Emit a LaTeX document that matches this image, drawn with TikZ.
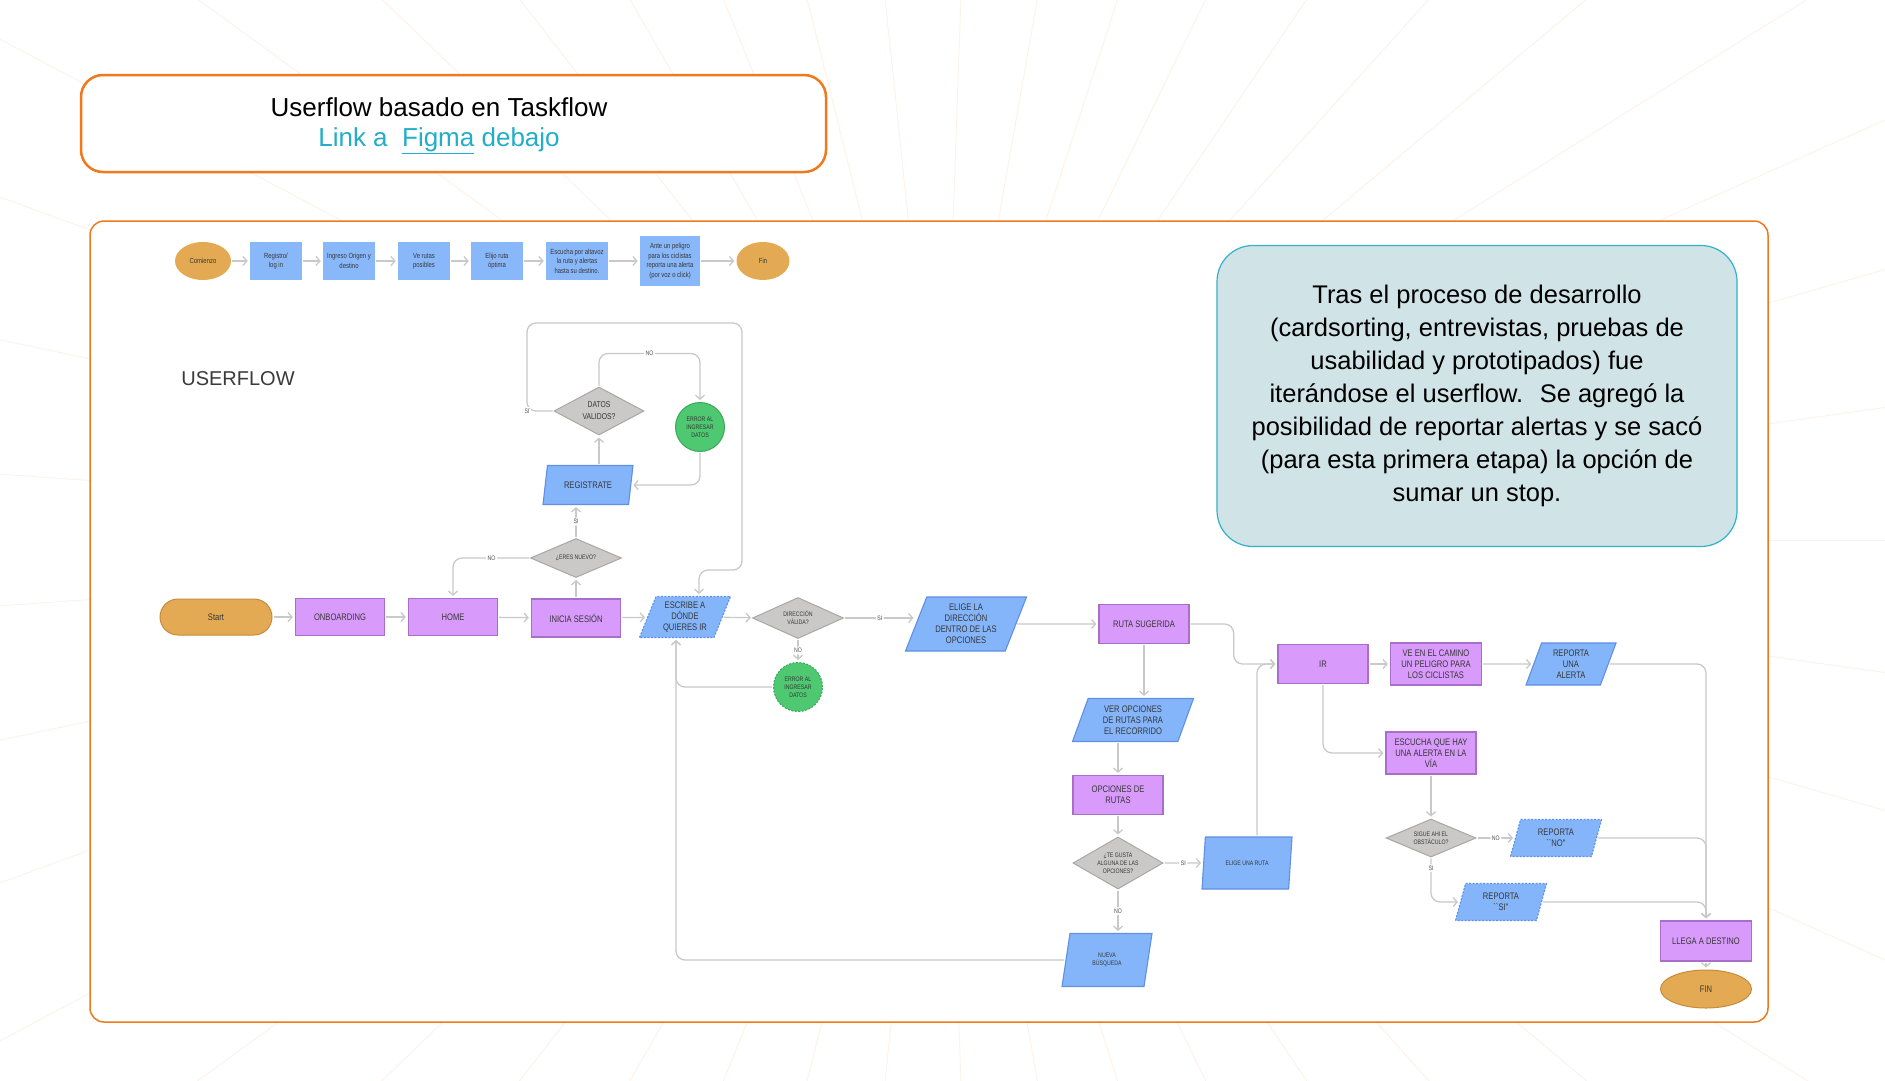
\documentclass[tikz,border=0pt]{standalone}
\usepackage{fontspec}
\usetikzlibrary{shapes.geometric,arrows.meta}
\setmainfont{Liberation Sans}
\newfontfamily\flowfont[FakeStretch=0.8]{Liberation Sans}
\newcommand\flowmain{\flowfont\fontsize{9.5pt}{11pt}\selectfont}
\newcommand\flowsmall{\flowfont\fontsize{6.5pt}{8pt}\selectfont}
\newcommand\flowtop{\flowfont\fontsize{7.4pt}{9.4pt}\selectfont}
\newcommand\flowlbl{\flowfont\fontsize{6.5pt}{7pt}\selectfont}
\definecolor{frameorange}{HTML}{EF7A1E}
\definecolor{rayorange}{HTML}{FEF2E8}
\definecolor{linkcyan}{HTML}{22ADC9}
\definecolor{notefill}{HTML}{D0E3E7}
\definecolor{notecyan}{HTML}{33B1CA}
\definecolor{purplefill}{HTML}{D99BFB}
\definecolor{purpleedge}{HTML}{A86EC8}
\definecolor{bluefill}{HTML}{84B5FB}
\definecolor{blueedge}{HTML}{5F90E2}
\definecolor{taskblue}{HTML}{89B8FA}
\definecolor{grayfill}{HTML}{CBC8C8}
\definecolor{grayedge}{HTML}{A9A6A6}
\definecolor{greenfill}{HTML}{4EC871}
\definecolor{greenedge}{HTML}{3CA75B}
\definecolor{orangefill}{HTML}{E4AA53}
\definecolor{orangeedge}{HTML}{C48B3A}
\definecolor{linegray}{HTML}{C9C9C9}
\definecolor{inkgray}{HTML}{363636}
\definecolor{labelgray}{HTML}{505050}
\definecolor{headgray}{HTML}{3A3A3A}
\begin{document}
\begin{tikzpicture}
            [
                x=1pt, y=-1pt,
                >={Straight Barb[length=4pt,width=9pt]},
                conn/.style={->, draw=linegray, line width=1.3pt, rounded corners=9pt, shorten >=2pt, shorten <=1pt},
                lbl/.style={font=\flowlbl, text=labelgray, fill=white, inner sep=1.5pt},
                process/.style={rectangle, draw=purpleedge, fill=purplefill, line width=1.3pt, minimum width=90pt, minimum height=39pt, align=center, font=\flowmain, text=inkgray, inner sep=1pt},
                inout/.style={trapezium, trapezium left angle=63, trapezium right angle=117, trapezium stretches body, draw=blueedge, fill=bluefill, line width=1.1pt, minimum width=91pt, minimum height=39pt, align=center, font=\flowmain, text=inkgray, inner sep=1pt},
                decision/.style={diamond, aspect=2, draw=grayedge, fill=grayfill, line width=1pt, minimum width=90pt, minimum height=40pt, align=center, font=\flowsmall, text=inkgray, inner sep=0pt},
                errorc/.style={circle, draw=greenedge, fill=greenfill, line width=1pt, minimum size=49pt, align=center, font=\flowsmall, text=inkgray, inner sep=0pt},
                terminal/.style={ellipse, draw=orangeedge, fill=orangefill, line width=1pt, minimum width=91pt, minimum height=38pt, align=center, font=\flowmain, text=inkgray, inner sep=0pt},
                topend/.style={ellipse, fill=orangefill, minimum width=56pt, minimum height=38pt, font=\flowtop, text=inkgray, inner sep=0pt},
                task/.style={rectangle, fill=taskblue, minimum width=52pt, minimum height=38pt, align=center, font=\flowtop, text=inkgray, inner sep=1pt},
                ray/.style={draw=rayorange, line width=0.9pt}
            ]
            \useasboundingbox (0,0) rectangle (1885,1080);
            \fill[white] (0,0) rectangle (1885,1080);
            \begin{scope}
                \clip (0,0) rectangle (1885,1080);
                \foreach \a in {0,8,...,352}
                    \draw[ray] (942,540) -- ++(\a:1400);
            \end{scope}

            \draw[draw=frameorange, fill=white, line width=2.5pt, rounded corners=22pt] (81,75) rectangle (826,172);
            \node[align=center, font=\fontsize{26pt}{30pt}\selectfont] (title) at (439,126)
                {Userflow basado en Taskflow\\\textcolor{linkcyan}{Link a \ \underline{Figma} debajo}};
            \draw[draw=frameorange, fill=white, line width=1.5pt, rounded corners=14pt] (90,221) rectangle (1768,1022);

            \node[draw=notecyan, fill=notefill, line width=1.2pt, rounded corners=36pt, minimum width=520pt, minimum height=301pt, align=center, font=\fontsize{25.5pt}{33pt}\selectfont] (note) at (1477,396) {
                Tras el proceso de desarrollo\\
                (cardsorting, entrevistas, pruebas de\\
                usabilidad y prototipados) fue\\
                iterándose el userflow.~ Se agregó la\\
                posibilidad de reportar alertas y se sacó\\
                (para esta primera etapa) la opción de\\
                sumar un stop.
            };
            \node[font=\fontsize{20pt}{24pt}\selectfont, text=headgray] (uflabel) at (238,379) {USERFLOW};

            \node[topend] (tStart) at (203,261) {Comienzo};
            \node[task] (tLogin) at (276,261) {Registro/\\log in};
            \node[task] (tOrigin) at (349,261) {Ingreso Origen y\\destino};
            \node[task] (tRoutes) at (424,261) {Ve rutas\\posibles};
            \node[task] (tChoose) at (497,261) {Elijo ruta\\óptima};
            \node[task, minimum width=62pt] (tListen) at (577,261) {Escucha por altavoz\\la ruta y alertas\\hasta su destino.};
            \node[task, minimum width=60pt, minimum height=50pt] (tAlert) at (670,261) {Ante un peligro\\para los ciclistas\\reporta una alerta\\(por voz o click)};
            \node[topend, minimum width=53pt] (tEnd) at (763,261) {Fin};
            \draw[conn] (tStart) -- (tLogin);
            \draw[conn] (tLogin) -- (tOrigin);
            \draw[conn] (tOrigin) -- (tRoutes);
            \draw[conn] (tRoutes) -- (tChoose);
            \draw[conn] (tChoose) -- (tListen);
            \draw[conn] (tListen) -- (tAlert);
            \draw[conn] (tAlert) -- (tEnd);

            \node[rectangle, rounded corners=18pt, draw=orangeedge, fill=orangefill, line width=1pt, minimum width=112pt, minimum height=36pt, font=\flowmain, text=inkgray] (start) at (216,617) {Start};
            \node[process, minimum width=89pt, minimum height=37pt] (onb) at (340,617) {ONBOARDING};
            \node[process, minimum width=89pt, minimum height=37pt] (home) at (453,617) {HOME};
            \node[process, minimum width=89pt, minimum height=38pt] (ini) at (576,618) {INICIA SESIÓN};
            \node[inout, minimum height=41pt, dash pattern=on 2pt off 1.5pt] (esc) at (685,617) {ESCRIBE A\\DÓNDE\\QUIERES IR};
            \node[decision, minimum width=91pt, minimum height=41pt] (dir) at (798,618) {DIRECCIÓN\\VÁLIDA?};
            \node[errorc, dash pattern=on 2pt off 1.5pt] (err2) at (798,687) {ERROR AL\\INGRESAR\\DATOS};
            \node[decision, minimum width=91pt, minimum height=39pt] (eres) at (576,558) {¿ERES NUEVO?};
            \node[inout, minimum width=90pt] (reg) at (588,485) {REGISTRATE};
            \node[decision, minimum height=48pt, font=\flowfont\fontsize{8.5pt}{12pt}\selectfont] (datos) at (599,411) {DATOS\\VALIDOS?};
            \node[errorc] (err1) at (700,427) {ERROR AL\\INGRESAR\\DATOS};
            \coordinate (siL) at (527,411);
            \coordinate (loopTL) at (527,323);
            \coordinate (loopTR) at (742,323);
            \coordinate (loopBR) at (742,570);

            \node[inout, minimum width=121pt, minimum height=54pt] (elige) at (966,624) {ELIGE LA\\DIRECCIÓN\\DENTRO DE LAS\\OPCIONES};
            \node[process] (ruta) at (1144,624) {RUTA SUGERIDA};
            \node[inout, minimum width=121pt, minimum height=43pt] (ver) at (1133,720) {VER OPCIONES\\DE RUTAS PARA\\EL RECORRIDO};
            \node[process] (opc) at (1118,795) {OPCIONES DE\\RUTAS};
            \node[decision, minimum height=52pt] (gusta) at (1118,863) {¿TE GUSTA\\ALGUNA DE LAS\\OPCIONES?};
            \node[inout, minimum width=90pt, minimum height=52pt, font=\flowsmall] (eur) at (1247,863) {ELIGE UNA RUTA};
            \node[inout, minimum width=90pt, minimum height=53pt, font=\flowsmall] (nueva) at (1107,960) {NUEVA\\BÚSQUEDA};

            \node[process] (ir) at (1323,664) {IR};
            \node[process, minimum width=91pt, minimum height=42pt] (ve) at (1436,664) {VE EN EL CAMINO\\UN PELIGRO PARA\\LOS CICLISTAS};
            \node[inout, minimum width=90pt, minimum height=42pt] (repa) at (1571,664) {REPORTA\\UNA\\ALERTA};
            \node[process, minimum height=42pt] (escu) at (1431,753) {ESCUCHA QUE HAY\\UNA ALERTA EN LA\\VÍA};
            \node[decision, minimum height=38pt] (sigue) at (1431,838) {SIGUE AHI EL\\OBSTÁCULO?};
            \node[inout, minimum height=37pt, dash pattern=on 2pt off 1.5pt] (repno) at (1556,838) {REPORTA\\``NO''};
            \node[inout, minimum height=37pt, dash pattern=on 2pt off 1.5pt] (repsi) at (1501,902) {REPORTA\\``SI''};
            \node[process, minimum width=91pt, minimum height=40pt] (llega) at (1706,941) {LLEGA A DESTINO};
            \node[terminal] (fin) at (1706,989) {FIN};

            \draw[conn] (start) -- (onb);
            \draw[conn] (onb) -- (home);
            \draw[conn] (home) -- (ini);
            \draw[conn] (ini) -- (esc);
            \draw[conn] (esc) -- (dir);
            \draw[conn] (dir.east) -- node[lbl]{SI} (dir.east -| elige.west);
            \draw[conn] (dir) -- node[lbl]{NO} (err2);
            \draw[conn] (err2.west) -| ([xshift=-9pt]esc.south);
            \draw[conn] (nueva.west) -| ([xshift=-9pt]esc.south);
            \draw[conn] (ini) -- (eres);
            \draw[conn] (eres.west) -| node[lbl, pos=0.25]{NO} (home.north);
            \draw[conn] (eres.north) -- node[lbl]{SI} (eres.north |- reg.south);
            \draw[conn] (datos.south |- reg.north) -- (datos.south);
            \draw[conn] (datos.north) -- ++(0,-33) -| node[lbl, pos=0.25]{NO} (err1.north);
            \draw[conn] (err1.south) |- (reg.east);
            \draw[conn] (datos.west) -- (siL) node[lbl]{SI} -- (loopTL) -- (loopTR) -- (loopBR) -| ([xshift=14pt]esc.north);

            \draw[conn] (elige) -- (ruta);
            \draw[conn] (ruta.south) -- (ruta.south |- ver.north);
            \draw[conn] (opc.north |- ver.south) -- (opc.north);
            \draw[conn] (opc) -- (gusta);
            \draw[conn] (gusta) -- node[lbl]{SI} (eur);
            \draw[conn] (gusta.south) -- node[lbl]{NO} (gusta.south |- nueva.north);
            \draw[conn] ([xshift=10pt]eur.north) |- (ir.west);
            \draw[conn] (ruta.east) -- ++(44,0) |- (ir.west);
            \draw[conn] (ir) -- (ve);
            \draw[conn] (ve) -- (repa);
            \draw[conn] (repa.east) -| (llega.north);
            \draw[conn] (ir.south) |- (escu.west);
            \draw[conn] (escu) -- (sigue);
            \draw[conn] (sigue) -- node[lbl]{NO} (repno);
            \draw[conn] (repno.east) -| (llega.north);
            \draw[conn] (sigue.south) |- node[lbl, pos=0.12]{SI} (repsi.west);
            \draw[conn] (repsi.east) -| (llega.north);
            \draw[conn] (llega) -- (fin);
        \end{tikzpicture}
\end{document}
